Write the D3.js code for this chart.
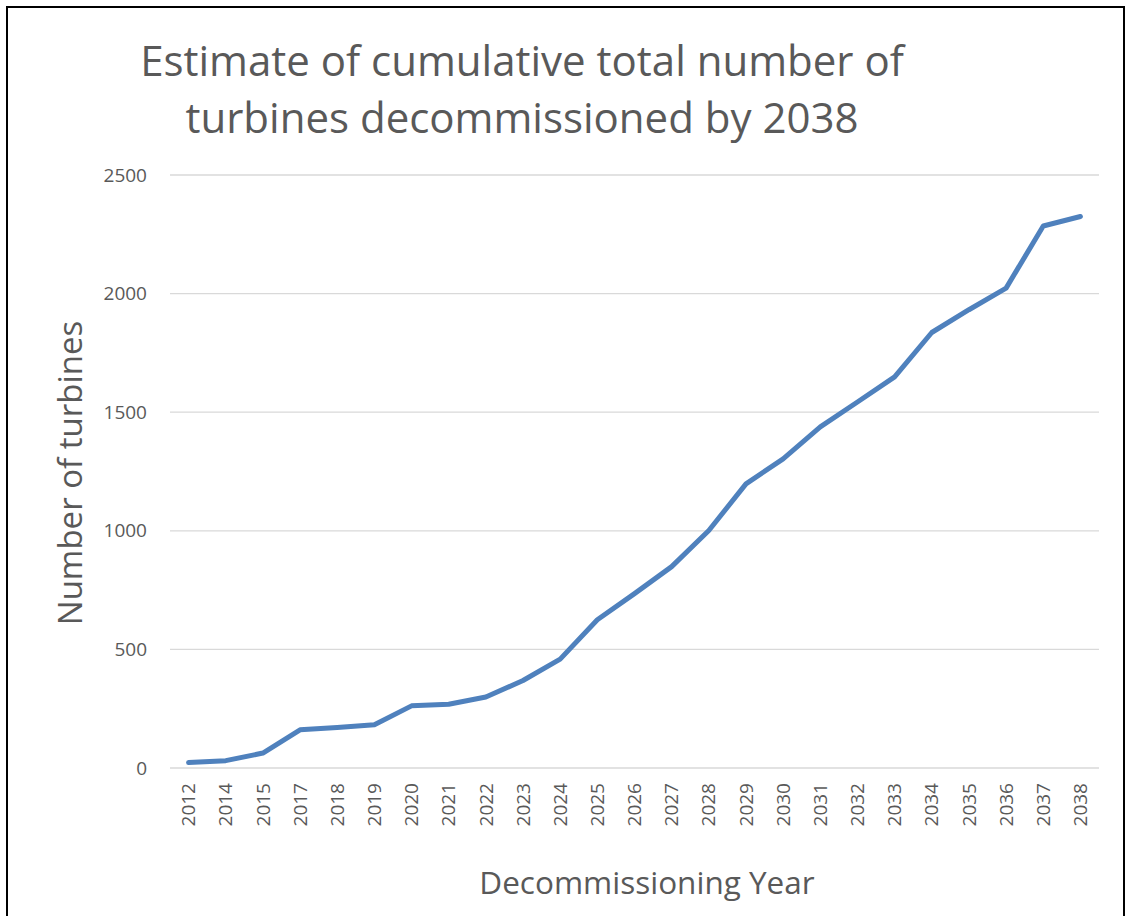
<!DOCTYPE html>
<html>
<head>
<meta charset="utf-8">
<script src="https://cdn.jsdelivr.net/npm/d3@7"></script>
<style>
  html, body { margin: 0; padding: 0; background: #fff; }
  svg { display: block; }
</style>
</head>
<body>
<svg id="chart" width="1132" height="916"></svg>
<script>
const years = ["2012","2014","2015","2017","2018","2019","2020","2021","2022","2023","2024","2025","2026","2027","2028","2029","2030","2031","2032","2033","2034","2035","2036","2037","2038"];
const turbines = [23,31,63,161,171,182,262,269,299,369,459,625,735,849,1001,1198,1303,1438,1543,1649,1836,1932,2023,2285,2325];
const yTicks = [0,500,1000,1500,2000,2500];
const titleLines = ["Estimate of cumulative total number of", "turbines decommissioned by 2038"];
const xTitle = "Decommissioning Year";
const yTitle = "Number of turbines";

const svg = d3.select("#chart");
const font = "Open Sans, Calibri, sans-serif";
const textColor = "#595959";

// outer border
svg.append("rect").attr("x", 7).attr("y", 7).attr("width", 1117).attr("height", 930)
  .attr("fill", "#fff").attr("stroke", "#000").attr("stroke-width", 2);

const plot = { left: 170, right: 1099, top: 175, bottom: 768 };

const x = d3.scaleBand().domain(years).range([plot.left, plot.right]);
const y = d3.scaleLinear().domain([0, 2500]).range([plot.bottom, plot.top]);

// gridlines
svg.append("g").selectAll("line").data(yTicks).join("line")
  .attr("x1", plot.left).attr("x2", plot.right)
  .attr("y1", d => y(d)).attr("y2", d => y(d))
  .attr("stroke", "#d9d9d9").attr("stroke-width", 1.3);

// y axis labels
const yAxis = d3.axisLeft(y).tickValues(yTicks).tickFormat(d3.format("d")).tickSize(0).tickPadding(0);
const gy = svg.append("g").attr("transform", `translate(${plot.left - 23},0)`).call(yAxis);
gy.select(".domain").remove();
gy.selectAll("text").attr("font-family", font).attr("font-size", 19).attr("fill", textColor);

// x axis labels
const xAxis = d3.axisBottom(x).tickSize(0).tickPadding(0);
const gx = svg.append("g").attr("transform", `translate(0,${plot.bottom})`).call(xAxis);
gx.select(".domain").remove();
gx.selectAll("text")
  .attr("font-family", font).attr("font-size", 19).attr("fill", textColor)
  .attr("transform", "rotate(-90)")
  .attr("text-anchor", "end")
  .attr("dy", "0.35em")
  .attr("x", -15).attr("y", 0);

// line
const line = d3.line().x((d, i) => x(years[i]) + x.bandwidth() / 2).y(d => y(d));
svg.append("path").datum(turbines)
  .attr("d", line)
  .attr("fill", "none").attr("stroke", "#4f81bd").attr("stroke-width", 5)
  .attr("stroke-linejoin", "round").attr("stroke-linecap", "round");

// title
svg.append("g").selectAll("text").data(titleLines).join("text")
  .attr("x", 522).attr("y", (d, i) => 76 + i * 57)
  .attr("text-anchor", "middle")
  .attr("font-family", font).attr("font-size", 42).attr("fill", textColor)
  .text(d => d);

// axis titles
svg.append("text")
  .attr("x", 647).attr("y", 894)
  .attr("text-anchor", "middle")
  .attr("font-family", font).attr("font-size", 31.5).attr("fill", textColor)
  .text(xTitle);

svg.append("text")
  .attr("transform", "translate(82,473) rotate(-90)")
  .attr("text-anchor", "middle")
  .attr("font-family", font).attr("font-size", 33).attr("fill", textColor)
  .text(yTitle);
</script>
</body>
</html>
